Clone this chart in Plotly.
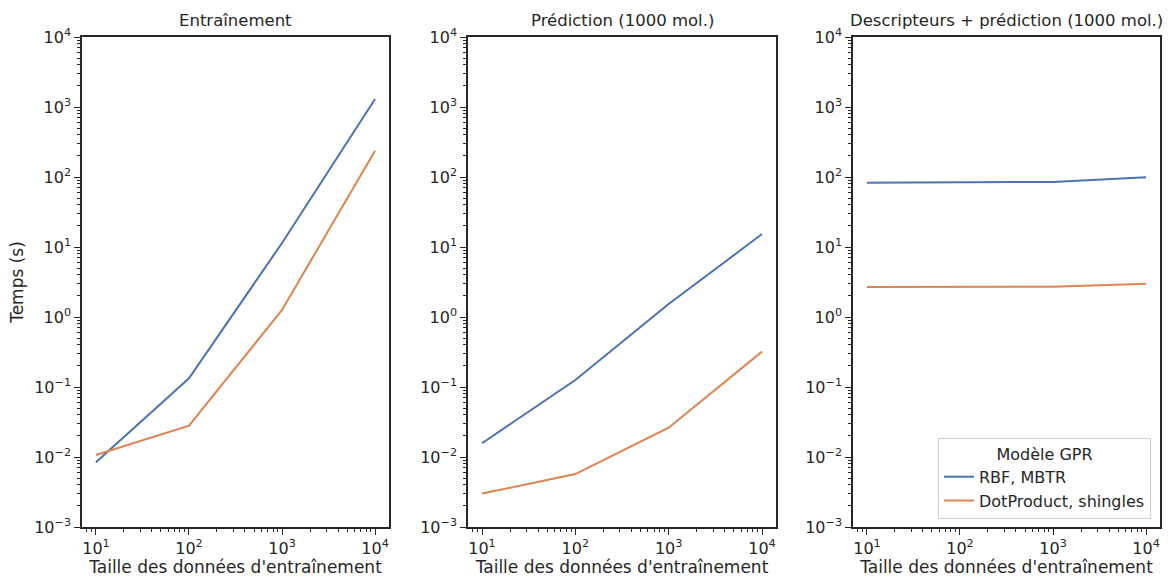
import plotly.graph_objects as go

# Training-set sizes and timing results (seconds)
sizes = [10, 100, 1000, 10000]
panel_titles = ["Entraînement", "Prédiction (1000 mol.)", "Descripteurs + prédiction (1000 mol.)"]
series_names = ["RBF, MBTR", "DotProduct, shingles"]

train_rbf = [0.0084, 0.133, 11.4, 1300]
train_dot = [0.0107, 0.028, 1.26, 238]
pred_rbf = [0.0157, 0.126, 1.53, 15.3]
pred_dot = [0.0030, 0.0057, 0.0262, 0.32]
desc_rbf = [83, 83, 85, 99]
desc_dot = [2.68, 2.68, 2.70, 2.99]

y_ticks = [1e-3, 1e-2, 1e-1, 1e0, 1e1, 1e2, 1e3, 1e4]
y_ticktext = ["10<sup>−3</sup>", "10<sup>−2</sup>", "10<sup>−1</sup>", "10<sup>0</sup>",
              "10<sup>1</sup>", "10<sup>2</sup>", "10<sup>3</sup>", "10<sup>4</sup>"]
x_ticks = [1e1, 1e2, 1e3, 1e4]
x_ticktext = ["10<sup>1</sup>", "10<sup>2</sup>", "10<sup>3</sup>", "10<sup>4</sup>"]

# minor log ticks at 2..9 × 10^k
x_minor = [m * 10 ** k for k in range(0, 5) for m in range(2, 10)]
y_minor = [m * 10.0 ** k for k in range(-4, 5) for m in range(2, 10)]

colors = ["#4C72B0", "#DD8452"]
ink = "#262626"
font_family = "DejaVu Sans"

W, H = 1168, 577
x_domains = [(82 / W, 389 / W), (468 / W, 776 / W), (853 / W, 1160 / W)]
y_domain = (1 - 527 / H, 1 - 37 / H)

panels = [(train_rbf, train_dot), (pred_rbf, pred_dot), (desc_rbf, desc_dot)]

fig = go.Figure()
for i, (rbf, dot) in enumerate(panels):
    suffix = "" if i == 0 else str(i + 1)
    for j, vals in enumerate([rbf, dot]):
        fig.add_trace(go.Scatter(
            x=sizes, y=vals, mode="lines",
            line=dict(color=colors[j], width=2),
            name=series_names[j],
            showlegend=(i == 2),
            legendgroup=series_names[j],
            xaxis="x" + suffix, yaxis="y" + suffix,
        ))

layout = dict(
    width=W, height=H,
    margin=dict(l=0, r=0, t=0, b=0, autoexpand=False),
    paper_bgcolor="white", plot_bgcolor="white",
    font=dict(family=font_family, color=ink, size=16),
    showlegend=True,
    legend=dict(
        x=938 / W, y=1 - 519 / H, xanchor="left", yanchor="bottom",
        bgcolor="white", bordercolor="#d0d0d0", borderwidth=1,
        font=dict(size=16, color=ink),
        title=dict(text="Modèle GPR", side="top center", font=dict(size=16, color=ink)),
        tracegroupgap=0, itemwidth=30,
    ),
)

annotations = []
for i in range(3):
    suffix = "" if i == 0 else str(i + 1)
    axis_common = dict(
        type="log", showgrid=False, zeroline=False, automargin=False,
        showline=True, linecolor=ink, linewidth=1.5, mirror=True,
        ticks="outside", ticklen=6, tickwidth=1.3, tickcolor=ink,
        tickfont=dict(size=16, color=ink),
    )
    layout["xaxis" + suffix] = dict(
        axis_common,
        domain=list(x_domains[i]), anchor="y" + suffix,
        range=[0.85, 4.15],
        tickvals=x_ticks, ticktext=x_ticktext,
        minor=dict(tickvals=x_minor, ticks="outside", ticklen=3.5, tickwidth=1, tickcolor=ink, showgrid=False),
        title=dict(text="Taille des données d'entraînement", font=dict(size=17, color=ink), standoff=2),
    )
    layout["yaxis" + suffix] = dict(
        axis_common,
        domain=list(y_domain), anchor="x" + suffix,
        range=[-3, 4],
        tickvals=y_ticks, ticktext=y_ticktext,
        minor=dict(tickvals=y_minor, ticks="outside", ticklen=3.5, tickwidth=1, tickcolor=ink, showgrid=False),
    )
    if i == 0:
        layout["yaxis"]["title"] = dict(text="Temps (s)", font=dict(size=17, color=ink), standoff=6)
    annotations.append(dict(
        text=panel_titles[i], showarrow=False,
        x=(x_domains[i][0] + x_domains[i][1]) / 2, xref="paper", xanchor="center",
        y=1 - 37 / H, yref="paper", yanchor="bottom", yshift=5,
        font=dict(size=16.5, color=ink),
    ))

layout["annotations"] = annotations
fig.update_layout(**layout)
fig.write_html("out.html")
